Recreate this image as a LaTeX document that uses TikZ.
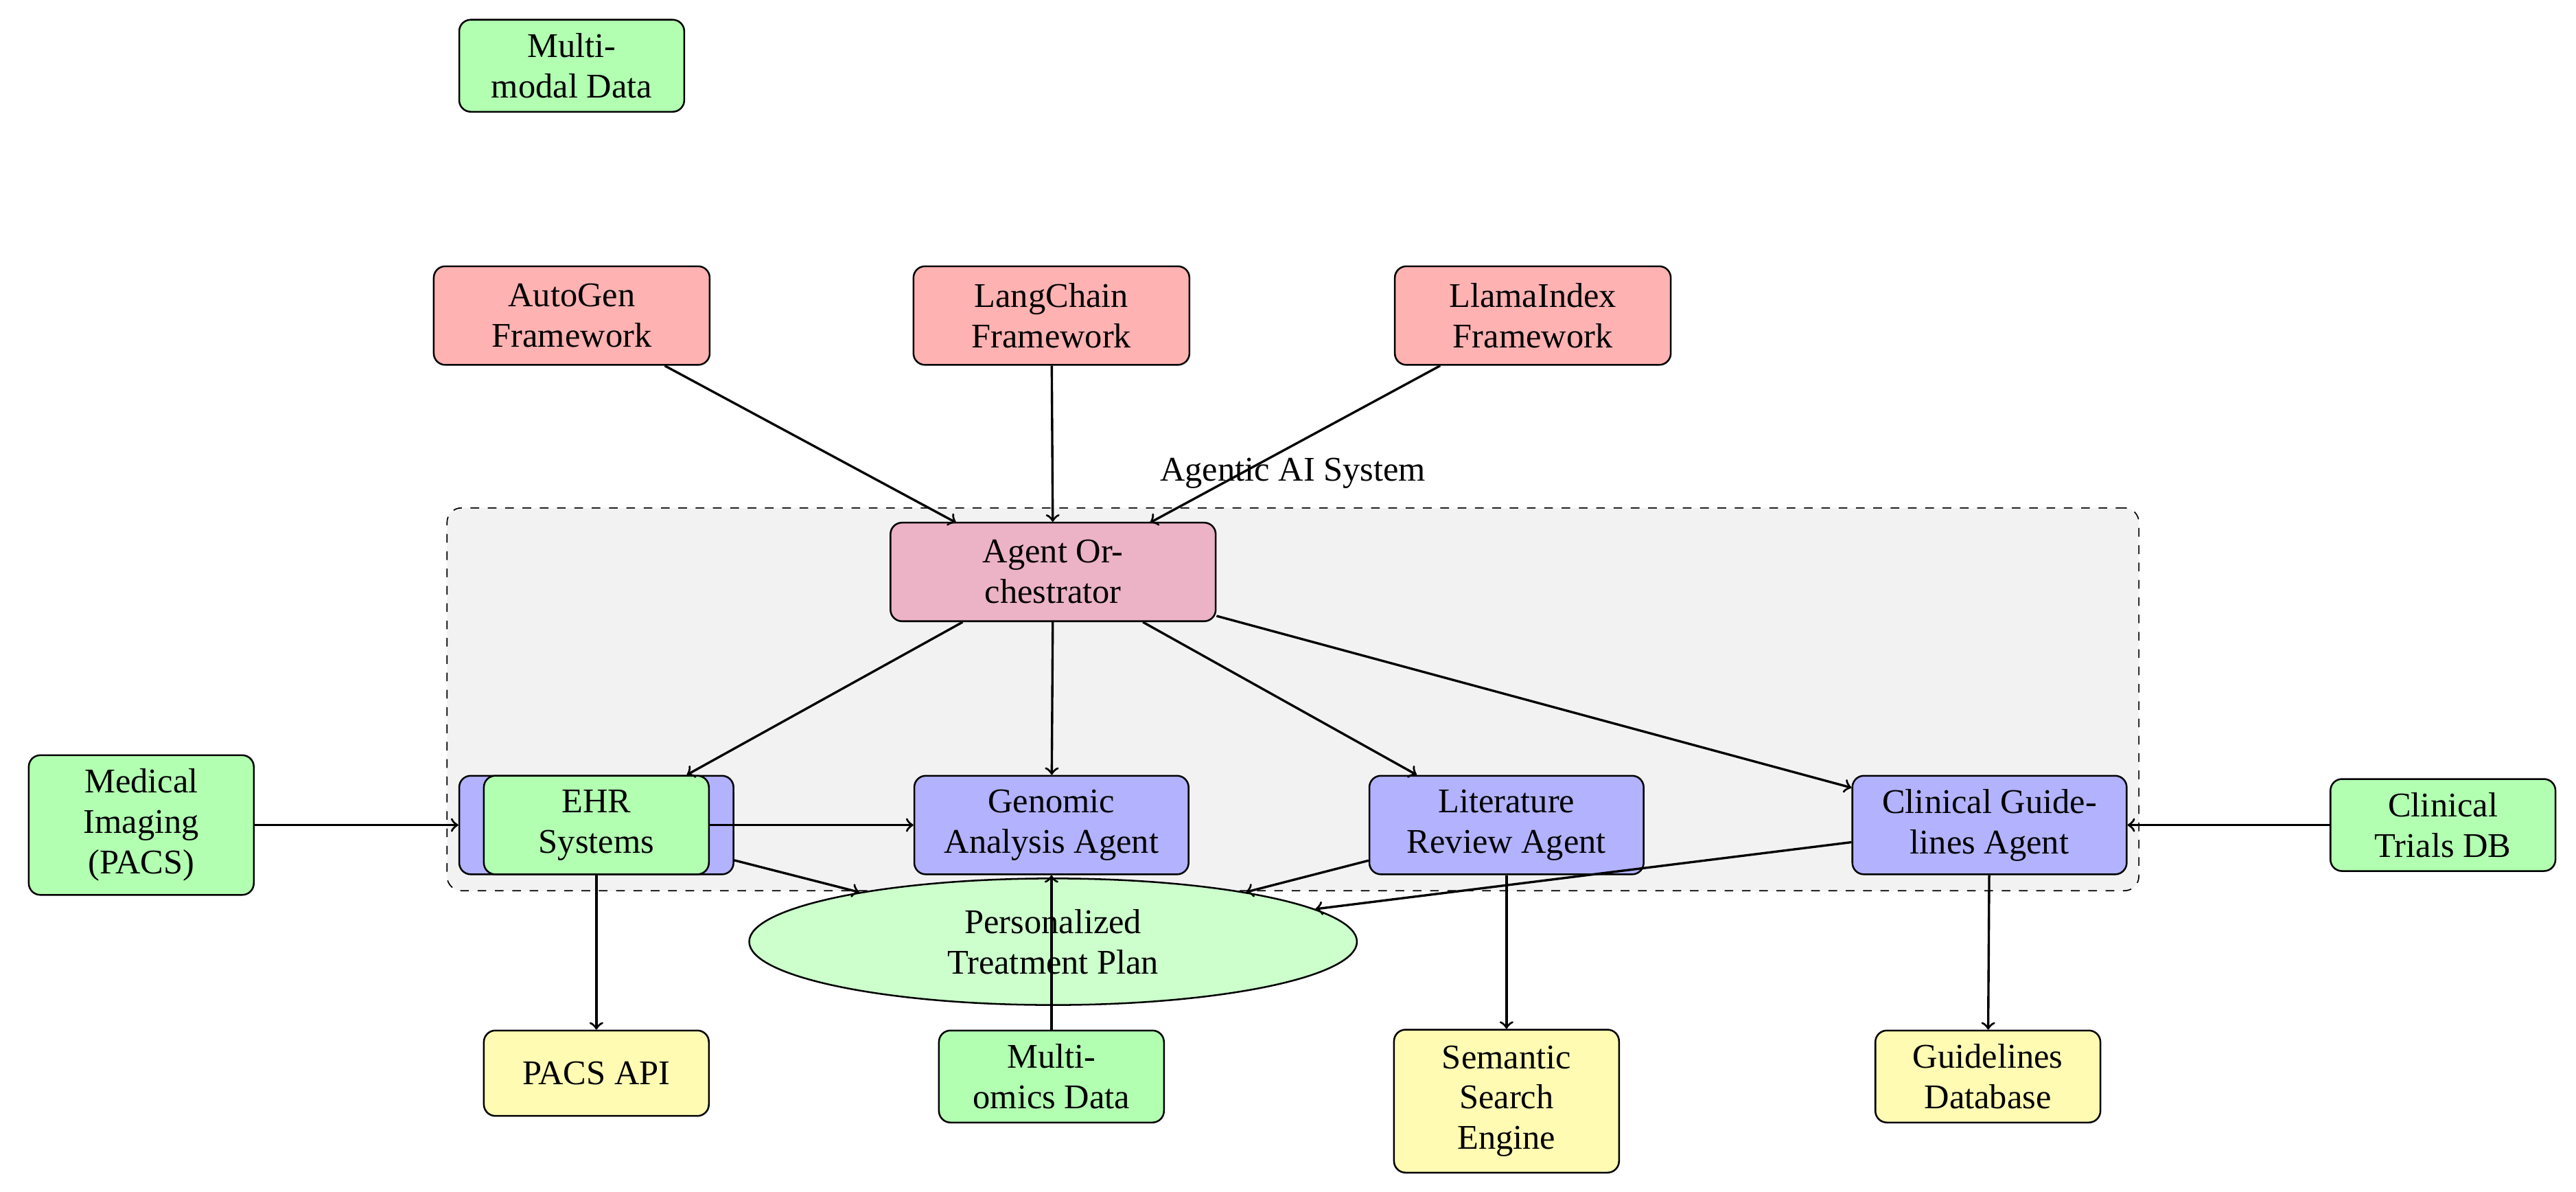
\documentclass[tikz,border=0pt]{standalone}
\usepackage{fontspec}
\setmainfont{Liberation Serif}
\usetikzlibrary{shapes.geometric}
\begin{document}
\begin{tikzpicture}[x=0.02cm,y=-0.02cm,
  box/.style={draw,rounded corners=4pt,align=center,font=\large,inner sep=2pt,line width=0.6pt},
  fw/.style={box,fill=red!30,minimum width=3.36cm,minimum height=1.2cm},
  ag/.style={box,fill=blue!30,minimum width=3.34cm,minimum height=1.2cm},
  dat/.style={box,fill=green!30,minimum width=2.74cm,minimum height=1.12cm},
  tool/.style={box,fill=yellow!30,minimum width=2.74cm,minimum height=1.04cm},
  arr/.style={->,thick}]
\useasboundingbox (0,0) rectangle (1568,725);
\node[draw,dashed,rounded corners=5pt,fill=gray!10,minimum width=20.6cm,minimum height=4.66cm] (sys) at (787,425.5) {};
\node[font=\large] (syslab) at (787,288) {Agentic AI System};
\node[dat] (mm) at (348,40) {Multi-\\modal Data};
\node[fw] (autogen) at (348,192) {AutoGen\\Framework};
\node[fw] (lang) at (640,192) {LangChain\\Framework};
\node[fw] (llama) at (933,192) {LlamaIndex\\Framework};
\node[box,fill=purple!30,minimum width=3.96cm,minimum height=1.2cm] (orch) at (641,348) {Agent Or-\\chestrator};
\node[ag] (ehrb) at (363,502) {};
\node[dat,minimum height=1.2cm] (ehr) at (363,502) {EHR\\Systems};
\node[ag] (gen) at (640,502) {Genomic\\Analysis Agent};
\node[ag] (lit) at (917,502) {Literature\\Review Agent};
\node[ag] (cg) at (1211,502) {Clinical Guide-\\lines Agent};
\node[dat,minimum height=1.7cm] (mi) at (86,502) {Medical\\Imaging\\(PACS)};
\node[dat] (ct) at (1487,502) {Clinical\\Trials DB};
\node[draw,ellipse,fill=green!20,minimum width=7.4cm,minimum height=1.54cm,align=center,font=\large,line width=0.6pt] (plan) at (641,573) {Personalized\\Treatment Plan};
\node[tool] (pacs) at (363,653) {PACS API};
\node[dat] (mo) at (640,655) {Multi-\\omics Data};
\node[tool,minimum height=1.74cm] (sem) at (917,670) {Semantic\\Search\\Engine};
\node[tool,minimum height=1.12cm] (gdb) at (1210,655) {Guidelines\\Database};
\coordinate (oa) at (582,318);
\coordinate (oc) at (700,318);
\draw[arr] (autogen) -- (oa);
\draw[arr] (lang) -- (orch);
\draw[arr] (llama) -- (oc);
\draw[arr] (orch) -- (ehrb);
\draw[arr] (orch) -- (gen);
\draw[arr] (orch) -- (lit);
\draw[arr] (orch) -- (cg);
\draw[arr] (mi) -- (ehrb);
\draw[arr] (ehr) -- (gen);
\draw[arr] (ehrb) -- (plan);
\draw[arr] (lit) -- (plan);
\draw[arr] (cg) -- (plan);
\draw[arr] (mo) -- (gen);
\draw[arr] (ehr) -- (pacs);
\draw[arr] (lit) -- (sem);
\draw[arr] (cg) -- (gdb);
\draw[arr] (ct) -- (cg);
\end{tikzpicture}
\end{document}
